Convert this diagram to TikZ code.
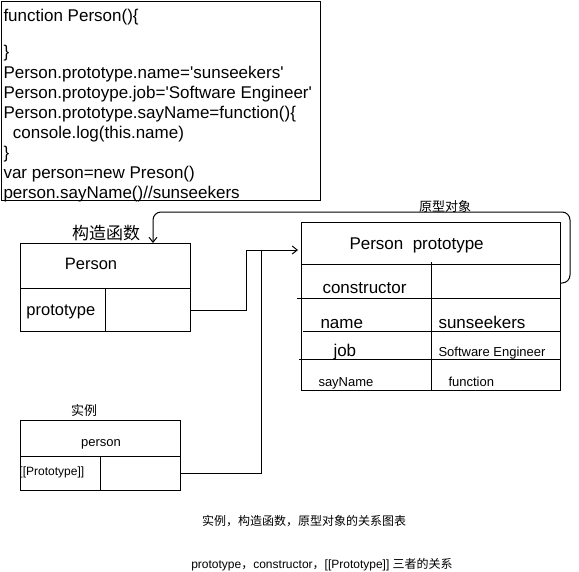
\documentclass[tikz,border=0pt]{standalone}
\usepackage{fontspec}
\setmainfont{Liberation Sans}
\newfontfamily\cjk{Noto Sans CJK SC}
\usetikzlibrary{arrows.meta}
\newcommand{\sq}{\textquotesingle}
\begin{document}
\begin{tikzpicture}[x=1pt,y=-1pt,line width=1pt,
  box/.style={draw,inner sep=0pt,anchor=north west},
  codeline/.style={anchor=base west,inner sep=0pt,font=\fontsize{17}{20}\selectfont},
  bigtxt/.style={anchor=base west,inner sep=0pt,font=\fontsize{16.5}{20}\selectfont},
  smalltxt/.style={anchor=base west,inner sep=0pt,font=\fontsize{13}{15}\selectfont},
  cjklab/.style={inner sep=0pt,font=\cjk\fontsize{13}{15}\selectfont},
  tip/.style={-{Straight Barb[length=5pt,width=8pt]}}]
\useasboundingbox (0,0) rectangle (579,571);

% code box
\node[box,minimum width=319pt,minimum height=199pt] (code) at (1,1) {};
\node[codeline] (c1) at (3,21) {function Person()\{};
\node[codeline] (c3) at (3,57.5) {\}};
\node[codeline] (c4) at (3,78.5) {Person.prototype.name=\sq sunseekers\sq};
\node[codeline] (c5) at (3,98.5) {Person.protoype.job=\sq Software Engineer\sq};
\node[codeline] (c6) at (3,118.5) {Person.prototype.sayName=function()\{};
\node[codeline] (c7) at (3,138.5) {\ \ console.log(this.name)};
\node[codeline] (c8) at (3,158.5) {\}};
\node[codeline] (c9) at (3,178.5) {var person=new Preson()};
\node[codeline] (c10) at (3,198) {person.sayName()//sunseekers};

% constructor box
\node[box,minimum width=170pt,minimum height=88pt] (ctor) at (20,243) {};
\draw (20,288) -- (190,288);
\draw (105,288) -- (105,331);
\node[bigtxt,anchor=base] (ctorname) at (91,269) {Person};
\node[bigtxt] (ctorproto) at (26,315.5) {prototype};
\node[inner sep=0pt,font=\cjk\fontsize{17}{20}\selectfont] (ctorlab) at (106,233) {构造函数};

% prototype object box
\node[box,minimum width=259pt,minimum height=168pt] (proto) at (301,222) {};
\draw (301,264) -- (560,264);
\draw (431,262) -- (431,390);
\draw (297,298) -- (560,298);
\draw (303,331) -- (560,331);
\draw (299,359) -- (560,359);
\node[codeline] (ptitle) at (349,249) {Person\ \ prototype};
\node[codeline] (pcons) at (322,293) {constructor};
\node[codeline] (pname) at (320,328) {name};
\node[codeline] (pnamev) at (438,328) {sunseekers};
\node[codeline] (pjob) at (333,356) {job};
\node[smalltxt] (pjobv) at (438,356.5) {Software Engineer};
\node[smalltxt] (psay) at (318,386) {sayName};
\node[smalltxt] (psayv) at (448,386) {function};
\node[cjklab] (plab) at (445,207) {原型对象};

% instance box
\node[box,minimum width=160pt,minimum height=70pt] (inst) at (20,420) {};
\draw (20,456) -- (180,456);
\draw (100,456) -- (100,490);
\node[smalltxt,anchor=base] (iname) at (101,446) {person};
\node[anchor=base west,inner sep=0pt,font=\fontsize{12}{14}\selectfont] (iproto) at (19,475) {[[Prototype]]};
\node[cjklab] (ilab) at (84,411) {实例};

% connectors
\coordinate (ctorout) at (190,310);
\coordinate (instout) at (180,473);
\coordinate (protoin) at (298,250);
\coordinate (consout) at (560,283);
\coordinate (ctorin) at (153,243);
\draw[tip] (ctorout) -- (246,310) -- (246,250) -- (protoin);
\draw (instout) -- (261,473) -- (261,250);
\draw[tip,rounded corners=8pt] (consout) -- (570,283) -- (570,212) -- (153,212) -- (ctorin);

% captions
\node[cjklab,font=\cjk\fontsize{12}{14}\selectfont] (cap1) at (304,521) {实例，构造函数，原型对象的关系图表};
\node[inner sep=0pt,font=\fontsize{12}{14}\selectfont] (cap2) at (322,565) {prototype{\cjk ，}constructor{\cjk ，}[[Prototype]] {\cjk 三者的关系}};
\end{tikzpicture}
\end{document}
